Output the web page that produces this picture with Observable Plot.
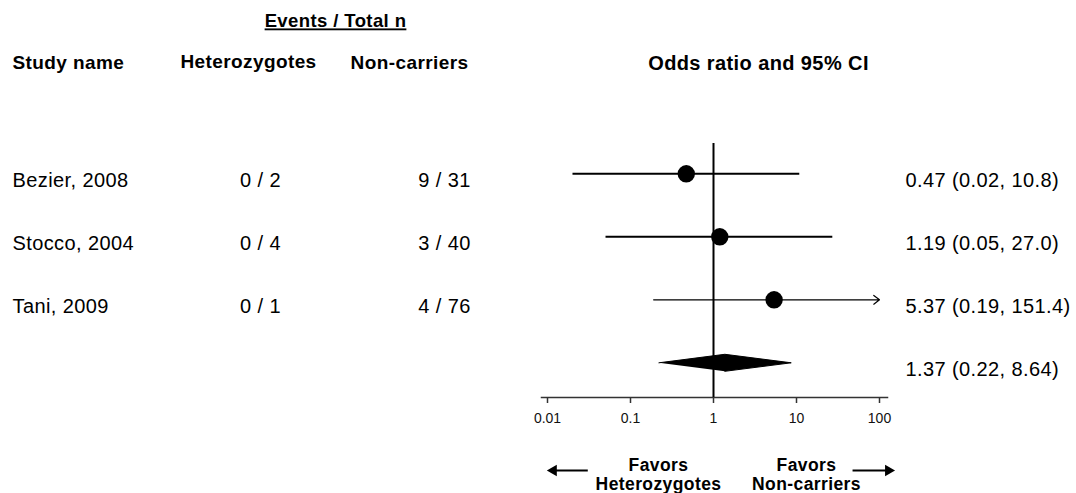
<!DOCTYPE html>
<html><head><meta charset="utf-8">
<script src="https://cdn.jsdelivr.net/npm/d3@7"></script>
<script src="https://cdn.jsdelivr.net/npm/@observablehq/plot@0.6"></script>
<style>body{margin:0;background:#fff;} svg{display:block;}</style>
</head><body><div id="chart"></div>
<script>
// ---- data ----
const studies = ["Bezier, 2008", "Stocco, 2004", "Tani, 2009"];
const hetEvents = [0, 0, 0];
const hetTotals = [2, 4, 1];
const nonEvents = [9, 3, 4];
const nonTotals = [31, 40, 76];
const oddsRatios = [0.47, 1.19, 5.37];
const lowerCI = [0.02, 0.05, 0.19];
const upperCI = [10.8, 27.0, 151.4];
const summaryOR = [1.37];
const summaryLower = [0.22];
const summaryUpper = [8.64];
const axisTicks = [0.01, 0.1, 1, 10, 100];
const favorLabels = ["Favors\nHeterozygotes", "Favors\nNon-carriers"];
const favorArrows = [{from: 0.031, to: 0.0118, dir: -90}, {from: 48, to: 128, dir: 90}];

// ---- scales (shared with the plot) ----
const xOpts = {type: "log", domain: [0.01, 100], range: [547, 879]};
const yOpts = {domain: [0, studies.length], range: [173.3, 362.3]};
const xs = Plot.scale({x: xOpts});
const ys = Plot.scale({y: yOpts});
const px = p => xs.invert(p);   // layout pixel -> x value
const py = p => ys.invert(p);   // layout pixel -> y value

// ---- build table ----
const fmt = v => v >= 10 ? v.toFixed(1) : v.toFixed(2);
const axisMax = d3.max(axisTicks);
const rows = studies.map((s, i) => ({
  row: i, name: s,
  het: `${hetEvents[i]} / ${hetTotals[i]}`,
  non: `${nonEvents[i]} / ${nonTotals[i]}`,
  or: oddsRatios[i], lo: lowerCI[i], hi: upperCI[i],
  label: `${fmt(oddsRatios[i])} (${fmt(lowerCI[i])}, ${fmt(upperCI[i])})`
}));
const sRow = studies.length;
const summary = [{row: sRow, or: summaryOR[0], lo: summaryLower[0], hi: summaryUpper[0],
  label: `${fmt(summaryOR[0])} (${fmt(summaryLower[0])}, ${fmt(summaryUpper[0])})`}];
const hh = 0.135; // diamond half-height in row units
const diamond = [
  {x: summary[0].lo, y: sRow}, {x: summary[0].or, y: sRow - hh},
  {x: summary[0].hi, y: sRow}, {x: summary[0].or, y: sRow + hh}
];
const textRowOffset = 0.115; // text sits slightly below the CI line (row units)

const FF = "'Liberation Sans', Arial, sans-serif";
const header = (t, xp, yp, o = {}) => Plot.text([t], {text: d => d, x: () => px(xp), y: () => py(yp),
  lineAnchor: "middle", fontFamily: FF, fontSize: 19, fontWeight: "bold", fill: "black", ...o});
const col = (key, xp, anchor, data = rows) => Plot.text(data, {x: () => px(xp), y: d => d.row + textRowOffset,
  text: key, textAnchor: anchor, lineAnchor: "middle", fontSize: 20, fill: "black"});

const chart = Plot.plot({
  width: 1076, height: 493,
  marginLeft: 0, marginRight: 0, marginTop: 0, marginBottom: 96,
  x: xOpts, y: yOpts,
  style: {fontFamily: FF, background: "white", overflow: "visible"},
  marks: [
    Plot.frame({anchor: "bottom", insetLeft: 541, insetRight: 189, stroke: "#333", strokeWidth: 1.5}),
    Plot.axisX({ticks: axisTicks, tickFormat: d => String(d), tickSize: 6, tickPadding: 10,
      fontSize: 14, label: null, stroke: "#333", strokeWidth: 1.5, fill: "#111"}),
    Plot.ruleX([1], {insetTop: 143, stroke: "black", strokeWidth: 2}),
    Plot.link(rows.filter(d => d.hi <= axisMax), {x1: "lo", x2: "hi", y1: "row", y2: "row", stroke: "black", strokeWidth: 2}),
    Plot.arrow(rows.filter(d => d.hi > axisMax), {x1: "lo", x2: () => axisMax, y1: "row", y2: "row",
      stroke: "black", strokeWidth: 1.2, headLength: 9, headAngle: 75}),
    Plot.dot(rows, {x: "or", y: "row", r: 8.7, fill: "black", stroke: null}),
    Plot.line(diamond, {x: "x", y: "y", fill: "black", stroke: "black", strokeWidth: 1}),
    // columns
    col("name", 12, "start"),
    col("het", 260, "middle"),
    col("non", 444, "middle"),
    col("label", 905, "start", [...rows, ...summary]),
    // headers
    header("Events / Total n", 335, 21, {textAnchor: "middle", fontSize: 18.5}),
    header("Study name", 12, 62, {textAnchor: "start"}),
    header("Heterozygotes", 248, 61, {textAnchor: "middle"}),
    header("Non-carriers", 409, 62, {textAnchor: "middle"}),
    header("Odds ratio and 95% CI", 758, 63, {textAnchor: "middle", fontSize: 20}),
    // favors annotation
    header(favorLabels[0], 658, 474, {textAnchor: "middle", fontSize: 17.5, lineHeight: 1.1}),
    header(favorLabels[1], 806, 474, {textAnchor: "middle", fontSize: 17.5, lineHeight: 1.1}),
    Plot.ruleY(favorArrows, {y: () => py(470), x1: "from", x2: "to", stroke: "black", strokeWidth: 2}),
    Plot.dot(favorArrows, {x: "to", y: () => py(470), symbol: "triangle2", rotate: "dir", r: 5.5, fill: "black", stroke: null})
  ]
});

// letter spacing for non-axis text, underline for the group header
d3.select(chart).selectAll("text").each(function() {
  const g = this.closest("g[aria-label]");
  const isAxis = g && /axis/.test(g.getAttribute("aria-label"));
  if (!isAxis) this.style.letterSpacing = "0.4px";
  if (this.textContent === "Events / Total n") this.setAttribute("text-decoration", "underline");
});
document.getElementById("chart").append(chart);
</script>
</body></html>
